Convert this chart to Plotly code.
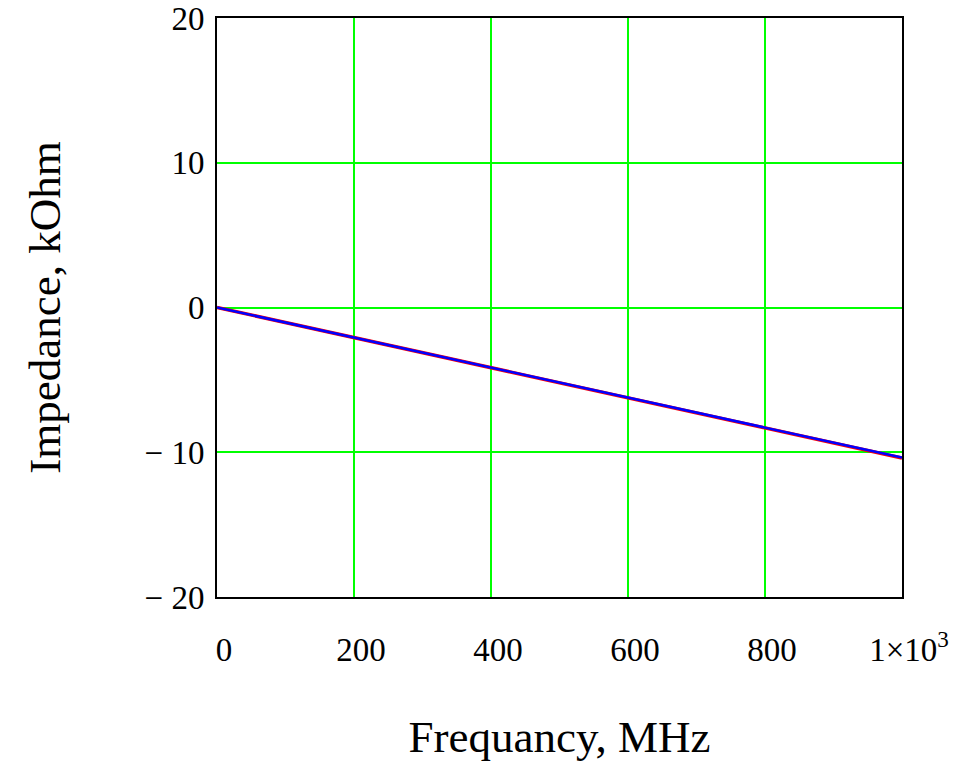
import plotly.graph_objects as go

freq_mhz = [0, 100, 200, 300, 400, 500, 600, 700, 800, 900, 1000]
impedance_red = [0, -1.04, -2.08, -3.12, -4.16, -5.20, -6.24, -7.28, -8.32, -9.36, -10.40]
impedance_blue = [0, -1.04, -2.07, -3.11, -4.15, -5.19, -6.22, -7.26, -8.30, -9.34, -10.37]

x_tickvals = [0, 200, 400, 600, 800, 1000]
x_ticktext = ["0", "200", "400", "600", "800", "1×10<sup>3</sup>"]
y_tickvals = [-20, -10, 0, 10, 20]
y_ticktext = ["− 20", "− 10", "0", "10", "20"]

font_family = "Liberation Serif, Times New Roman, serif"

fig = go.Figure()
fig.add_trace(go.Scatter(x=freq_mhz, y=impedance_red, mode="lines",
                         line=dict(color="#ff0000", width=3.5), showlegend=False))
fig.add_trace(go.Scatter(x=freq_mhz, y=impedance_blue, mode="lines",
                         line=dict(color="#0000ff", width=2.5), showlegend=False))

fig.update_layout(
    width=969, height=762,
    margin=dict(l=217, r=67, t=18, b=165),
    paper_bgcolor="white", plot_bgcolor="white",
    font=dict(family=font_family, size=33, color="black"),
    xaxis=dict(
        range=[0, 1000], tickvals=x_tickvals, ticktext=x_ticktext,
        showgrid=True, gridcolor="#00ff00", gridwidth=2,
        zeroline=False, showline=True, linecolor="black", linewidth=2, mirror=True,
        ticks="", ticklabelstandoff=22, ticklabelshift=7, automargin=False,
        title=dict(text="Frequancy, MHz", font=dict(size=45, family=font_family), standoff=55),
    ),
    yaxis=dict(
        range=[-20, 20], tickvals=y_tickvals, ticktext=y_ticktext,
        showgrid=True, gridcolor="#00ff00", gridwidth=2,
        zeroline=False, showline=True, linecolor="black", linewidth=2, mirror=True,
        ticks="", ticklabelstandoff=4, automargin=False,
        title=dict(text="Impedance, kOhm", font=dict(size=45, family=font_family), standoff=70),
    ),
)

fig.write_html("out.html")
